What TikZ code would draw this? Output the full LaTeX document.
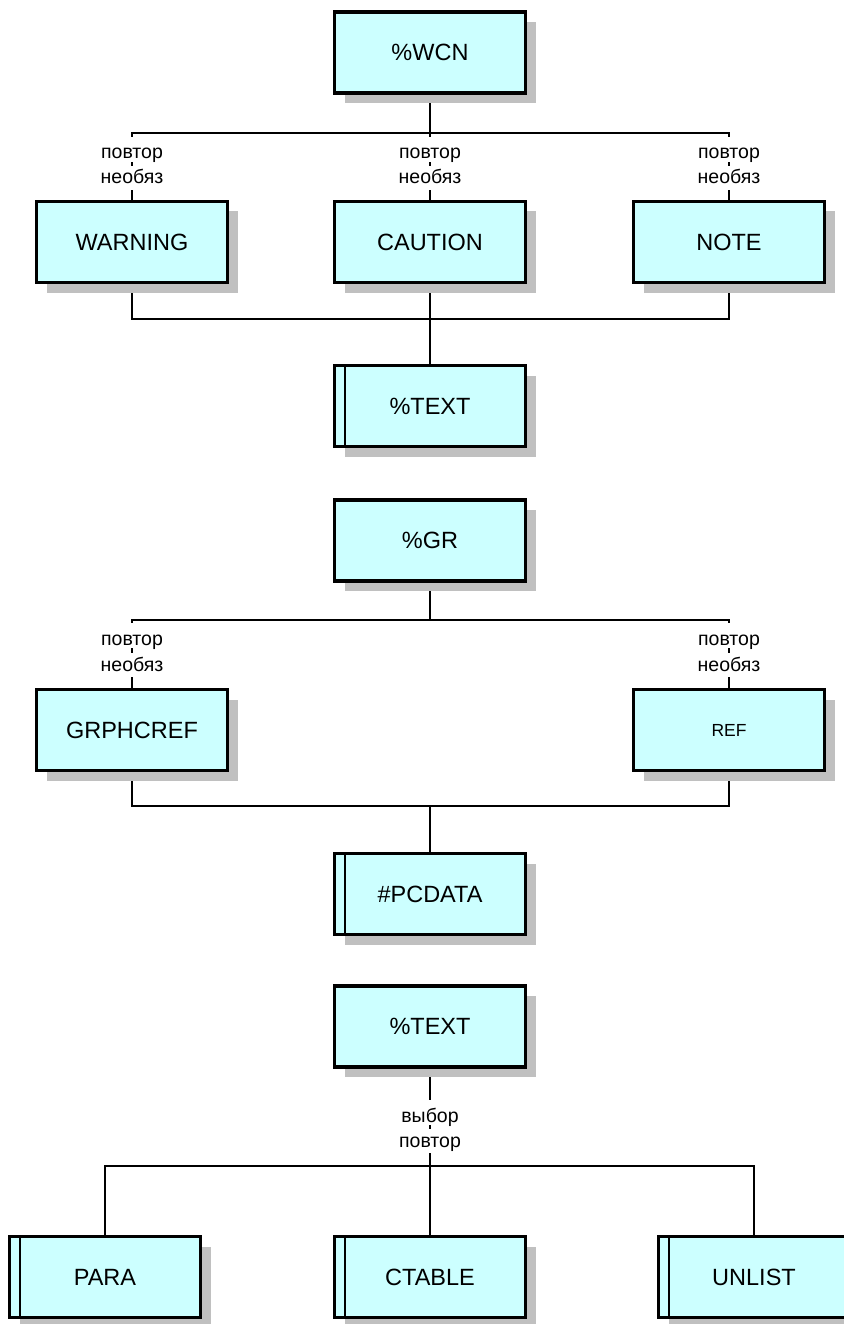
\documentclass[tikz,border=0pt]{standalone}
\usepackage{fontspec}
\setmainfont{Liberation Sans}
\usetikzlibrary{shadows}
\definecolor{boxfill}{HTML}{CCFFFF}
\definecolor{shadowgray}{HTML}{C0C0C0}
\pgfdeclarelayer{background}
\pgfsetlayers{background,main}
\tikzset{
  elem/.style={draw, line width=3.3pt, fill=boxfill, rectangle,
    minimum width=191pt, minimum height=81pt, inner sep=0pt,
    font=\fontsize{23.5}{28}\selectfont,
    drop shadow={shadow xshift=10pt, shadow yshift=-10pt, fill=shadowgray, opacity=1}},
  grp/.style={elem, path picture={\draw[line width=2.8pt]
    ([xshift=10.5pt]path picture bounding box.north west) --
    ([xshift=10.5pt]path picture bounding box.south west);}},
  conn/.style={line width=2.9pt},
  lab/.style={fill=white, inner ysep=0pt, inner xsep=1pt,
    font=\fontsize{19.5}{23}\selectfont, anchor=base},
  labA/.style={lab, text height=22pt, text depth=3pt},
  labB/.style={lab, text height=18pt, text depth=6pt},
}
\begin{document}
\begin{tikzpicture}[x=1pt, y=-1pt]
\useasboundingbox (0,0) rectangle (843,1324);
% section 1
\node[elem] (wcn) at (430,52.5) {\%WCN};
\node[elem] (warning) at (132,242) {WARNING};
\node[elem] (caution) at (430,242) {CAUTION};
\node[elem] (note) at (729,242) {NOTE};
\node[grp] (text1) at (430,406) {\%TEXT};
\coordinate (b1) at (430,133);
\coordinate (b2) at (430,319);
% section 2
\node[elem] (gr) at (430,540.5) {\%GR};
\node[elem] (grph) at (132,730) {GRPHCREF};
\node[elem, font=\fontsize{17.5}{21}\selectfont] (ref) at (729,730) {REF};
\node[grp] (pcdata) at (430,894) {\#PCDATA};
\coordinate (b3) at (430,620);
\coordinate (b4) at (430,806);
% section 3
\node[elem] (text2) at (430,1026.5) {\%TEXT};
\node[grp] (para) at (105,1277) {PARA};
\node[grp] (ctable) at (430,1277) {CTABLE};
\node[grp] (unlist) at (754,1277) {UNLIST};
\coordinate (b5) at (430,1166);
% labels
\node[labA] (l1a) at (132,159) {повтор};
\node[labB] (l1b) at (132,184) {необяз};
\node[labA] (l2a) at (430,159) {повтор};
\node[labB] (l2b) at (430,184) {необяз};
\node[labA] (l3a) at (729,159) {повтор};
\node[labB] (l3b) at (729,184) {необяз};
\node[labA] (l4a) at (132,645) {повтор};
\node[labB] (l4b) at (132,671) {необяз};
\node[labA] (l5a) at (729,645) {повтор};
\node[labB] (l5b) at (729,671) {необяз};
\node[labA] (l6a) at (430,1122) {выбор};
\node[labB] (l6b) at (430,1147) {повтор};
\begin{pgfonlayer}{background}
\fill[white] (0,0) rectangle (843,1324);
\draw[conn] (wcn.south) -- (b1);
\draw[conn] (warning.north) |- (b1);
\draw[conn] (note.north) |- (b1);
\draw[conn] (b1) -- (caution.north);
\draw[conn] (warning.south) |- (b2);
\draw[conn] (note.south) |- (b2);
\draw[conn] (caution.south) -- (b2) -- (text1.north);
\draw[conn] (gr.south) -- (b3);
\draw[conn] (grph.north) |- (b3);
\draw[conn] (ref.north) |- (b3);
\draw[conn] (grph.south) |- (b4);
\draw[conn] (ref.south) |- (b4);
\draw[conn] (b4) -- (pcdata.north);
\draw[conn] (text2.south) -- (b5);
\draw[conn] (para.north) |- (b5);
\draw[conn] (unlist.north) |- (b5);
\draw[conn] (b5) -- (ctable.north);
\end{pgfonlayer}
\end{tikzpicture}
\end{document}
